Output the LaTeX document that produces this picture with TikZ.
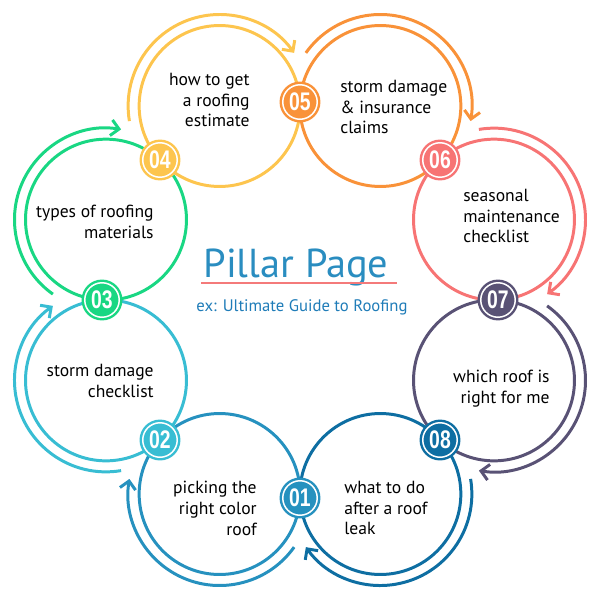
\documentclass[tikz,border=0pt]{standalone}
\usepackage{fontspec}
\setmainfont{PT Sans}
\newfontfamily\numfont{Liberation Sans}[FakeStretch=0.76]
\usetikzlibrary{arrows.meta}

\definecolor{pA}{HTML}{2691BF}
\definecolor{pB}{HTML}{38BDD3}
\definecolor{pC}{HTML}{19D783}
\definecolor{pD}{HTML}{FDC54E}
\definecolor{pE}{HTML}{F99239}
\definecolor{pF}{HTML}{F77474}
\definecolor{pG}{HTML}{595275}
\definecolor{pH}{HTML}{0E6EA2}
\definecolor{titleblue}{HTML}{2A8DC0}
\definecolor{subblue}{HTML}{1F7CB8}
\definecolor{underred}{HTML}{F47A7A}

\tikzset{
  ring/.style = {draw=#1, line width=1.7pt, circle, inner sep=0pt, minimum size=3.22cm},
  loop/.style = {draw=#1, line width=1.7pt, -{Straight Barb[length=4.5pt,width=9pt]}},
  badge/.style = {circle, inner sep=0pt, outer sep=0pt, minimum size=0.69cm,
    fill=#1, draw=#1, line width=1.4pt, double=white, double distance=0.85pt,
    text=white, font=\numfont\bfseries\fontsize{14.5}{14.5}\selectfont},
  topic/.style = {inner sep=0pt, align=#1, font=\fontsize{10}{11.9}\selectfont},
  pillar/.style = {inner sep=0pt, text=titleblue, font=\fontsize{23}{23}\selectfont},
  example/.style = {inner sep=0pt, text=subblue, font=\fontsize{9.5}{9.5}\selectfont}
}

\begin{document}
\begin{tikzpicture}[x=0.02cm, y=0.02cm]
    \useasboundingbox (-300,-300) rectangle (300,300);

    \node[ring=pA] (c1) at (-112.5:210) {};
    \node[ring=pB] (c2) at (-157.5:210) {};
    \node[ring=pC] (c3) at (157.5:210) {};
    \node[ring=pD] (c4) at (112.5:210) {};
    \node[ring=pE] (c5) at (67.5:210) {};
    \node[ring=pF] (c6) at (22.5:210) {};
    \node[ring=pG] (c7) at (-22.5:210) {};
    \node[ring=pH] (c8) at (-67.5:210) {};

    \draw[loop=pA] ([shift={(-35.5:91.5)}]c1.center) arc[start angle=-35.5, end angle=-189.5, radius=91.5];
    \draw[loop=pB] ([shift={(-80.5:91.5)}]c2.center) arc[start angle=-80.5, end angle=-234.5, radius=91.5];
    \draw[loop=pC] ([shift={(234.5:91.5)}]c3.center) arc[start angle=234.5, end angle=80.5, radius=91.5];
    \draw[loop=pD] ([shift={(189.5:91.5)}]c4.center) arc[start angle=189.5, end angle=35.5, radius=91.5];
    \draw[loop=pE] ([shift={(144.5:91.5)}]c5.center) arc[start angle=144.5, end angle=-9.5, radius=91.5];
    \draw[loop=pF] ([shift={(99.5:91.5)}]c6.center) arc[start angle=99.5, end angle=-54.5, radius=91.5];
    \draw[loop=pG] ([shift={(54.5:91.5)}]c7.center) arc[start angle=54.5, end angle=-99.5, radius=91.5];
    \draw[loop=pH] ([shift={(9.5:91.5)}]c8.center) arc[start angle=9.5, end angle=-144.5, radius=91.5];

    \node[badge=pA] (b1) at (-90:198) {01};
    \node[badge=pB] (b2) at (-135:198) {02};
    \node[badge=pC] (b3) at (180:198) {03};
    \node[badge=pD] (b4) at (135:198) {04};
    \node[badge=pE] (b5) at (90:198) {05};
    \node[badge=pF] (b6) at (45:198) {06};
    \node[badge=pG] (b7) at (0:198) {07};
    \node[badge=pH] (b8) at (-45:198) {08};

    \node[topic=right, anchor=east] (t1) at (-43,-208) {picking the\\right color\\roof};
    \node[topic=right, anchor=east] (t2) at (-146,-81) {storm damage\\checklist};
    \node[topic=right, anchor=east] (t3) at (-146,78) {types of roofing\\materials};
    \node[topic=right, anchor=east] (t4) at (-50,200) {how to get\\a roofing\\estimate};
    \node[topic=left, anchor=west] (t5) at (40,193) {storm damage\\\& insurance\\claims};
    \node[topic=left, anchor=west] (t6) at (163,84) {seasonal\\maintenance\\checklist};
    \node[topic=right, anchor=east] (t7) at (250,-89) {which roof is\\right for me};
    \node[topic=left, anchor=west] (t8) at (44,-208) {what to do\\after a roof\\leak};

    \node[pillar, anchor=base] (title) at (-4,23) {Pillar Page};
    \draw[underred, line width=1.5pt] ([shift={(-2,-6)}]title.base west) -- ([shift={(8,-6)}]title.base east);
    \node[example, anchor=base] (sub) at (2,-11) {ex: Ultimate Guide to Roofing};
\end{tikzpicture}
\end{document}
